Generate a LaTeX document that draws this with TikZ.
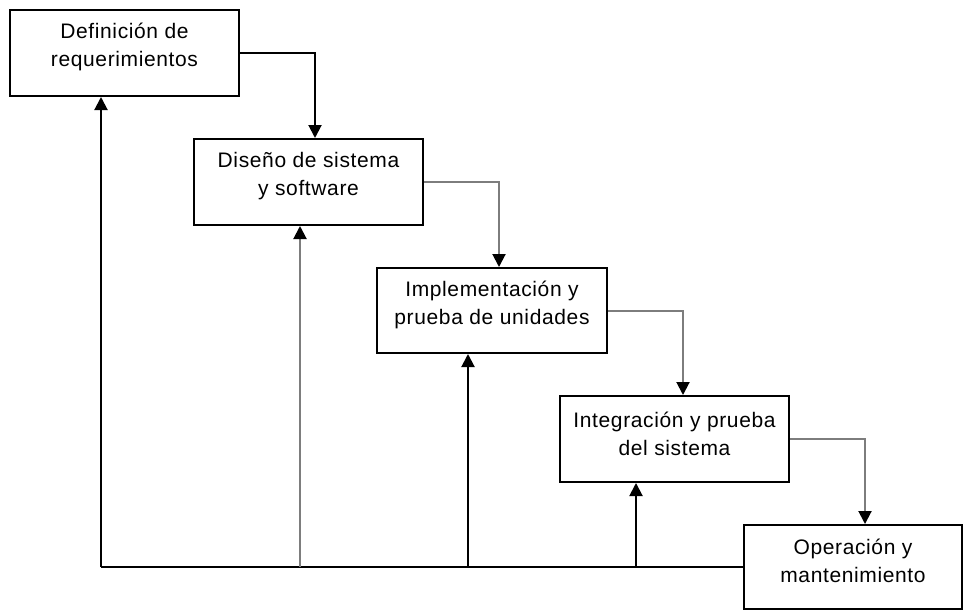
\documentclass[tikz,border=0pt]{standalone}
\usepackage{fontspec}
\setmainfont{Liberation Sans}[LetterSpace=3]
\usetikzlibrary{arrows.meta,calc}
\begin{document}
\begin{tikzpicture}[x=1pt,y=-1pt,
  stage/.style={draw=black,line width=2pt,rectangle,inner sep=0pt,anchor=north west},
  lbl/.style={anchor=north,inner sep=0pt,align=center,font=\fontsize{21}{28}\selectfont},
  tip/.style={-{Triangle[width=13pt,length=13pt,color=black]}},
  fwd/.style={tip,line width=2pt},
  back/.style={tip,line width=2pt},
  gr/.style={draw={rgb,255:red,125;green,125;blue,125}}
]
\useasboundingbox (0,0) rectangle (965,610);
\node[stage,minimum width=229pt,minimum height=86pt] (b1) at (9,9) {};
\node[stage,minimum width=229pt,minimum height=86pt] (b2) at (193,138) {};
\node[stage,minimum width=230pt,minimum height=85pt] (b3) at (376,267) {};
\node[stage,minimum width=229pt,minimum height=86pt] (b4) at (559,395) {};
\node[stage,minimum width=218pt,minimum height=84pt] (b5) at (743,524) {};
\node[lbl] (t1) at ([yshift=-14pt]b1.north) {Definición de\\requerimientos};
\node[lbl] (t2) at ([yshift=-14pt]b2.north) {Diseño de sistema\\y software};
\node[lbl] (t3) at ([yshift=-14pt]b3.north) {Implementación y\\prueba de unidades};
\node[lbl] (t4) at ([yshift=-17pt]b4.north) {Integración y prueba\\del sistema};
\node[lbl] (t5) at ([yshift=-15pt]b5.north) {Operación y\\mantenimiento};
% forward flow
\draw[fwd] (b1.east) -| ([xshift=122pt]b2.north west);
\draw[fwd,gr] (b2.east) -| ([xshift=123pt]b3.north west);
\draw[fwd,gr] (b3.east) -| ([xshift=124pt]b4.north west);
\draw[fwd,gr] (b4.east) -| ([xshift=122pt]b5.north west);
% feedback
\coordinate (j0) at (b5.west |- 0,567);
\coordinate (j1) at (101,567);
\coordinate (j2) at (300,567);
\coordinate (j3) at (468,567);
\coordinate (j4) at (636,567);
\draw[line width=2pt] (j0) -- (j1);
\draw[back] (j1) -- (j1 |- b1.south);
\draw[back,gr] (j2) -- (j2 |- b2.south);
\draw[back] (j3) -- (j3 |- b3.south);
\draw[back] (j4) -- (j4 |- b4.south);
\end{tikzpicture}
\end{document}
